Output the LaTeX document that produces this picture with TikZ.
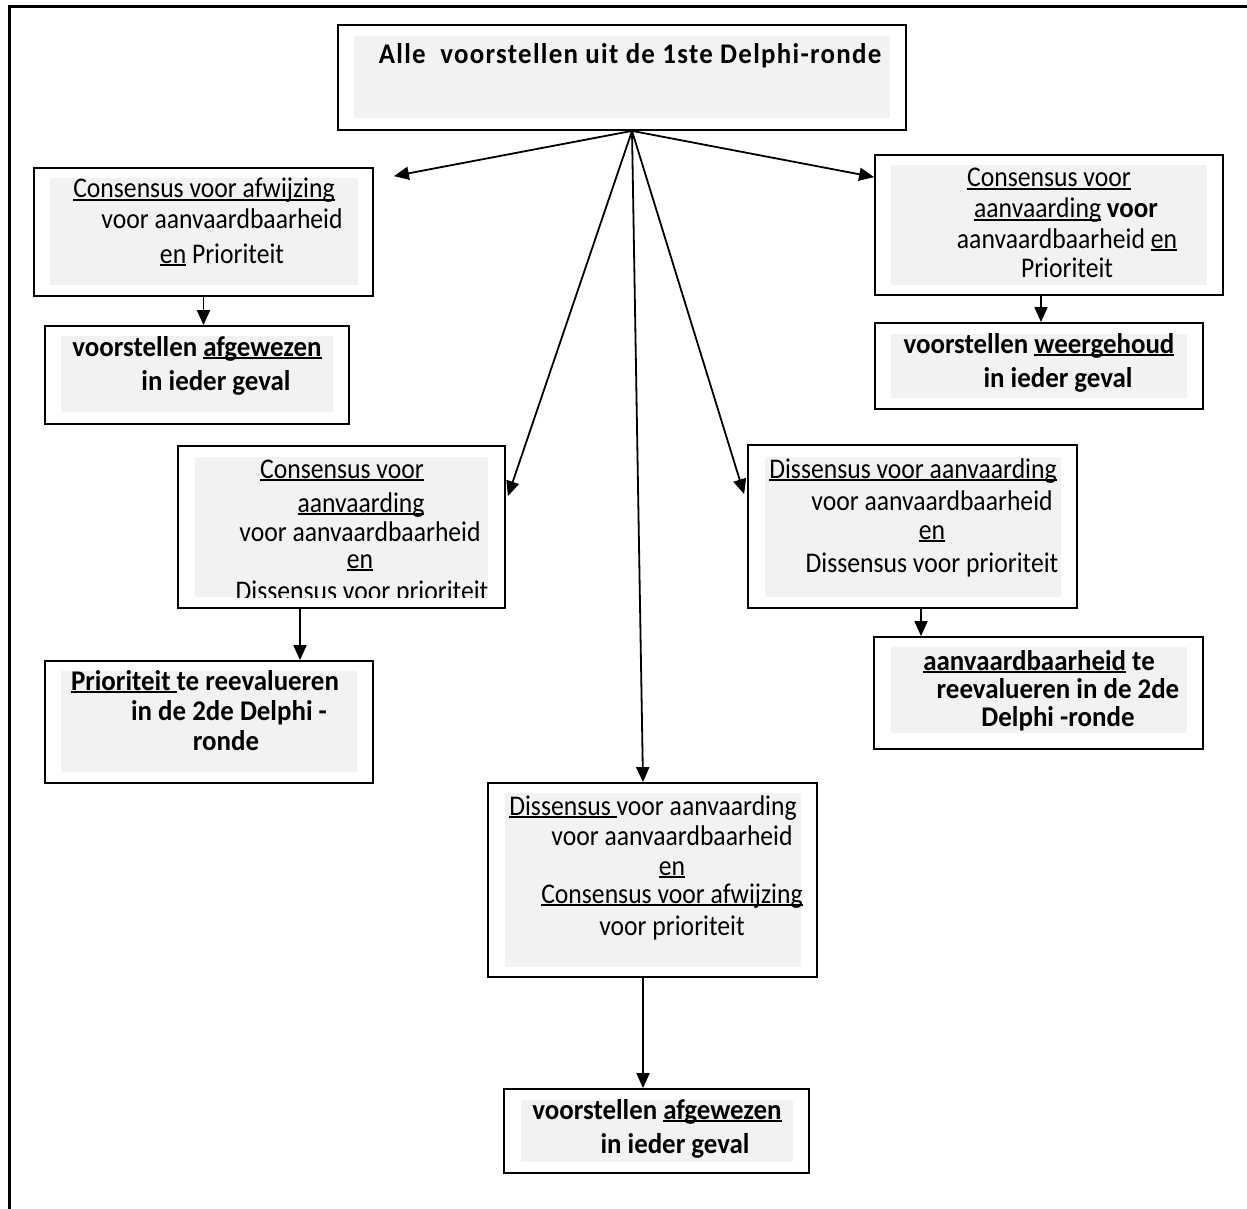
\documentclass[tikz,border=0pt]{standalone}
\usepackage{fontspec}
\setmainfont{Carlito}[FakeStretch=0.9, BoldFeatures={FakeStretch=0.944}]
\usetikzlibrary{arrows.meta}
\definecolor{panelgrey}{HTML}{F2F2F2}
% underline sitting just below the baseline, crossing descenders
\newcommand\ulx[1]{\setbox0\hbox{#1}\rlap{\rule[-2.8pt]{\wd0}{1.5pt}}\box0\relax}

\begin{document}
\begin{tikzpicture}[x=1pt,y=-1pt,
  frame/.style={draw, line width=1.8pt, fill=white, inner sep=0},
  panel/.style={fill=panelgrey, draw=none, inner sep=0},
  arr/.style={line width=1.8pt, -{Triangle[length=15pt,width=13pt]}},
  txt/.style={anchor=base, inner sep=0, font=\fontsize{28.5}{32}\selectfont},
  btxt/.style={anchor=base, inner sep=0, font=\fontsize{28.5}{32}\selectfont\bfseries}]

\useasboundingbox (0,0) rectangle (1247,1209);
% open outer frame
\draw[line width=3pt] (9,1209) -- (9,6.5) -- (1247,6.5);

% ---- boxes ----
\node[frame, minimum width=568pt, minimum height=105pt] (T)  at (622,77.5) {};
\node[panel, minimum width=536pt, minimum height=82pt]  (Tp) at (622,77) {};

\node[frame, minimum width=339pt, minimum height=128pt] (L1)  at (203.5,232) {};
\node[panel, minimum width=308pt, minimum height=107pt] (L1p) at (204,231.5) {};
\node[frame, minimum width=304pt, minimum height=98pt]  (L2)  at (197,375) {};
\node[panel, minimum width=272pt, minimum height=76pt]  (L2p) at (197,374) {};

\node[frame, minimum width=348pt, minimum height=140pt] (R1)  at (1049,225) {};
\node[panel, minimum width=316pt, minimum height=120pt] (R1p) at (1049,225) {};
\node[frame, minimum width=328pt, minimum height=86pt]  (R2)  at (1039,366) {};
\node[panel, minimum width=296pt, minimum height=64pt]  (R2p) at (1039,366) {};

\node[frame, minimum width=327pt, minimum height=162pt] (M1)  at (341.5,527) {};
\node[panel, minimum width=293pt, minimum height=140pt] (M1p) at (341.5,527) {};
\node[frame, minimum width=328pt, minimum height=122pt] (M2)  at (209,722) {};
\node[panel, minimum width=296pt, minimum height=101pt] (M2p) at (209,721.5) {};

\node[frame, minimum width=329pt, minimum height=163pt] (M3)  at (912.5,526.5) {};
\node[panel, minimum width=296pt, minimum height=140pt] (M3p) at (913,527) {};
\node[frame, minimum width=329pt, minimum height=112pt] (M4)  at (1038.5,693) {};
\node[panel, minimum width=296pt, minimum height=86pt]  (M4p) at (1039,690) {};

\node[frame, minimum width=329pt, minimum height=194pt] (B1)  at (652.5,880) {};
\node[panel, minimum width=296pt, minimum height=174pt] (B1p) at (653,880) {};
\node[frame, minimum width=305pt, minimum height=84pt]  (B2)  at (656.5,1131) {};
\node[panel, minimum width=272pt, minimum height=62pt]  (B2p) at (657,1131) {};

% ---- texts ----
\node[btxt] (Tt) at (630,64) {\addfontfeatures{LetterSpace=4.5}Alle\ \ voorstellen uit de 1ste Delphi-ronde};

\node[txt] (L1a) at (204,198) {\ulx{Consensus voor afwijzing}};
\node[txt] (L1b) at (222,229) {voor aanvaardbaarheid};
\node[txt] (L1c) at (222,263) {\ulx{en} Prioriteit};
\node[btxt] (L2a) at (197,356) {voorstellen \ulx{afgewezen}};
\node[btxt] (L2b) at (216,390) {in ieder geval};

\node[txt] (R1a) at (1049,187) {\ulx{Consensus voor}};
\node[txt] (R1b) at (1066,218) {\ulx{aanvaarding} \textbf{voor}};
\node[txt] (R1c) at (1067,248) {aanvaardbaarheid \ulx{en}};
\node[txt] (R1d) at (1067,277) {Prioriteit};
\node[btxt] (R2a) at (1039,353) {voorstellen \ulx{weergehoud}};
\node[btxt] (R2b) at (1058,387) {in ieder geval};

\node[txt] (M1a) at (342,478) {\ulx{Consensus voor}};
\node[txt] (M1b) at (361,512) {\ulx{aanvaarding}};
\node[txt] (M1c) at (360,541) {voor aanvaardbaarheid};
\node[txt] (M1d) at (360,568) {\ulx{en}};
\begin{scope}
  \clip (195,457) rectangle (488,597);
  \node[txt] (M1e) at (362,600) {Dissensus voor prioriteit};
\end{scope}
\node[btxt] (M2a) at (205,690) {\ulx{Prioriteit }te reevalueren};
\node[btxt] (M2b) at (229,720) {in de 2de Delphi -};
\node[btxt] (M2c) at (226,750) {ronde};

\node[txt] (M3a) at (913,478) {\ulx{Dissensus voor aanvaarding}};
\node[txt] (M3b) at (932,510) {voor aanvaardbaarheid};
\node[txt] (M3c) at (932,539) {\ulx{en}};
\node[txt] (M3d) at (932,572) {Dissensus voor prioriteit};
\node[btxt] (M4a) at (1039,670) {\ulx{aanvaardbaarheid} te};
\node[btxt] (M4b) at (1058,698) {reevalueren in de 2de};
\node[btxt] (M4c) at (1058,726) {Delphi -ronde};

\node[txt] (B1a) at (653,815) {\ulx{Dissensus }voor aanvaarding};
\node[txt] (B1b) at (672,845) {voor aanvaardbaarheid};
\node[txt] (B1c) at (672,875) {\ulx{en}};
\node[txt] (B1d) at (672,903) {\ulx{Consensus voor afwijzing}};
\node[txt] (B1e) at (672,935) {voor prioriteit};
\node[btxt] (B2a) at (657,1119) {voorstellen \ulx{afgewezen}};
\node[btxt] (B2b) at (675,1153) {in ieder geval};

% ---- connectors ----
\coordinate (hub) at ([xshift=10pt]T.south);
\path (L1.north east) ++(20,9) coordinate (l1tip);
\path (R1.north west) ++(0,23) coordinate (r1tip);
\path (M1.north east) ++(2,51) coordinate (m1tip);
\path (M3.north west) ++(-3,50) coordinate (m3tip);
\path (B1.north) ++(-9.5,0) coordinate (b1tip);

\draw[arr] (hub) -- (l1tip);
\draw[arr] (hub) -- (r1tip);
\draw[arr] (hub) -- (m1tip);
\draw[arr] (hub) -- (m3tip);
\draw[arr] (hub) -- (b1tip);

\draw[arr] (L1.south) -- (L1.south |- L2.north);
\draw[arr] ([xshift=-8pt]R1.south) -- ([xshift=-8pt]R1.south |- R2.north);
\draw[arr] ([xshift=-41.5pt]M1.south) -- ([xshift=-41.5pt]M1.south |- M2.north);
\draw[arr] ([xshift=8.5pt]M3.south) -- ([xshift=8.5pt]M3.south |- M4.north);
\draw[arr] ([xshift=-9.5pt]B1.south) -- ([xshift=-9.5pt]B1.south |- B2.north);
\end{tikzpicture}
\end{document}
